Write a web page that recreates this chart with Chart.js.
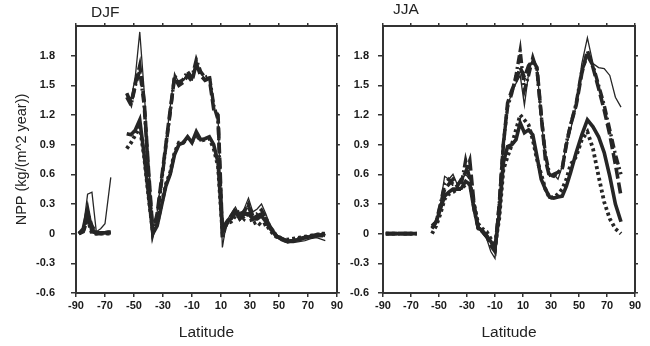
<!DOCTYPE html>
<html>
<head>
<meta charset="utf-8">
<script src="https://cdn.jsdelivr.net/npm/chart.js@4/dist/chart.umd.min.js"></script>
<style>
  html, body { margin: 0; padding: 0; background: #fff; }
  #wrapL { position: absolute; left: 0; top: 0; width: 345px; height: 346px; background: #fff; }
  #wrapR { position: absolute; left: 344px; top: 0; width: 306px; height: 346px; background: #fff; }
</style>
</head>
<body>
<div id="wrapL"><canvas id="cL" width="345" height="346"></canvas></div>
<div id="wrapR"><canvas id="cR" width="306" height="346"></canvas></div>
<script>
// Latitudes (degrees); null entries in series mark gaps (no data)
const lat = [-88,-85,-82,-79,-76,-73,-70,-66,-60,
  -55,-52,-49,-46,-43,-40,-37,-34,-31,-28,-25,-22,-19,-16,-13,-10,-7,-4,-1,2,5,8,11,
  14,17,20,23,26,29,32,35,38,41,44,
  48,52,56,60,64,68,72,76,80,82];

const xTicks = [-90,-70,-50,-30,-10,10,30,50,70,90];
const yTicks = [-0.6,-0.3,0,0.3,0.6,0.9,1.2,1.5,1.8];

// DJF
const djfThin = [0,0.05,0.40,0.42,0.02,0.05,0.10,0.57,null,
  1.42,1.35,1.6,2.04,1.45,0.75,0.05,0.22,0.58,0.92,1.28,1.62,1.52,1.55,1.62,1.56,1.74,1.62,1.57,1.58,1.28,1.18,-0.14,
  0.13,0.2,0.27,0.18,0.25,0.36,0.22,0.25,0.3,0.2,0.08,
  0.0,-0.06,-0.09,-0.09,-0.08,-0.07,-0.05,-0.04,-0.06,-0.07];
const djfDashed = [0,0.02,0.15,0.05,0,0,0,0.01,null,
  1.42,1.32,1.52,1.70,1.35,0.65,0.02,0.2,0.55,0.9,1.25,1.58,1.5,1.53,1.6,1.54,1.72,1.6,1.55,1.57,1.26,1.2,0.02,
  0.1,0.15,0.22,0.15,0.2,0.28,0.15,0.18,0.2,0.15,0.06,
  -0.02,-0.06,-0.08,-0.07,-0.05,-0.04,-0.03,-0.02,-0.02,-0.02];
const djfDashDot = [0,0.03,0.22,0.08,0.01,0.01,0.01,0.02,null,
  1.38,1.3,1.5,1.65,1.3,0.6,0.0,0.18,0.52,0.88,1.22,1.6,1.53,1.56,1.64,1.58,1.76,1.64,1.58,1.6,1.3,1.15,-0.05,
  0.12,0.18,0.25,0.2,0.22,0.3,0.18,0.2,0.24,0.16,0.07,
  -0.01,-0.05,-0.07,-0.07,-0.06,-0.04,-0.02,-0.01,0.0,0.0];
const djfThick = [0,0.05,0.25,0.02,0.01,0.01,0.01,0.02,null,
  1.01,1.0,1.05,1.15,0.8,0.4,0.0,0.08,0.28,0.48,0.6,0.8,0.9,0.92,0.98,0.92,1.03,0.95,0.96,0.98,0.9,0.72,0.05,
  0.12,0.15,0.22,0.15,0.2,0.2,0.15,0.15,0.18,0.12,0.05,
  -0.02,-0.06,-0.08,-0.07,-0.06,-0.04,-0.03,-0.02,-0.01,-0.02];
const djfDotted = [0,0.03,0.15,0,0,0,0,0,null,
  0.86,0.92,1.0,1.08,0.78,0.38,0.02,0.1,0.3,0.5,0.62,0.82,0.92,0.92,0.97,0.93,1.0,0.94,0.95,0.96,0.86,0.68,0.02,
  0.1,0.12,0.18,0.2,0.15,0.22,0.1,0.12,0.08,0.1,0.03,
  -0.03,-0.05,-0.06,-0.05,-0.04,-0.03,-0.02,-0.01,0.0,0.0];

// JJA
const jjaThin = [0,0,0,0,0,0,0,0,null,
  0.06,0.12,0.3,0.58,0.55,0.6,0.5,0.55,0.6,0.55,0.3,0.06,0.0,-0.05,-0.18,-0.25,0.3,0.9,1.3,1.42,1.52,1.6,1.3,
  1.62,1.78,1.68,1.15,0.78,0.58,0.6,0.55,0.68,0.9,1.05,
  1.3,1.72,1.98,1.72,1.68,1.67,1.6,1.38,1.28,null];
const jjaDashed = [0,0,0,0,0,0,0,0,null,
  0.06,0.12,0.28,0.45,0.5,0.55,0.48,0.55,0.62,0.74,0.3,0.06,0.02,-0.02,-0.12,-0.18,0.28,0.9,1.32,1.45,1.55,1.68,1.58,
  1.7,1.75,1.68,1.2,0.75,0.57,0.6,0.62,0.66,0.9,1.1,
  1.3,1.62,1.85,1.68,1.47,1.25,1.0,0.7,0.38,null];
const jjaDashDot = [0,0,0,0,0,0,0,0,null,
  0.05,0.12,0.3,0.5,0.55,0.5,0.5,0.5,0.74,0.55,0.25,0.05,0.02,-0.03,-0.1,-0.15,0.3,0.92,1.28,1.42,1.6,1.85,1.45,
  1.6,1.78,1.65,1.2,0.8,0.6,0.58,0.62,0.65,0.92,1.1,
  1.32,1.65,1.8,1.7,1.5,1.3,1.05,0.8,0.6,null];
const jjaThick = [0,0,0,0,0,0,0,0,null,
  0.08,0.12,0.25,0.38,0.42,0.45,0.45,0.46,0.53,0.5,0.25,0.06,0.03,-0.02,-0.08,-0.15,0.2,0.72,0.88,0.9,0.95,1.12,1.02,
  1.05,1.0,0.78,0.55,0.45,0.37,0.36,0.37,0.38,0.48,0.62,
  0.82,1.0,1.15,1.08,0.98,0.82,0.58,0.3,0.12,null];
const jjaDotted = [0,0,0,0,0,0,0,0,null,
  0.0,0.08,0.2,0.35,0.4,0.42,0.45,0.45,0.5,0.5,0.3,0.1,0.05,0.02,-0.05,-0.12,0.15,0.65,0.78,0.9,1.05,1.2,1.15,
  1.1,0.95,0.75,0.6,0.45,0.36,0.37,0.4,0.45,0.55,0.7,
  0.78,0.95,1.03,0.86,0.58,0.32,0.15,0.05,0.0,null];

const INK = '#262626';
const AXIS = '#333';
const FONT = '"Liberation Sans", Arial, sans-serif';

function pts(arr) { return lat.map((x, i) => ({ x: x, y: arr[i] })); }

function makeDatasets(thin, dashed, dashdot, thick, dotted) {
  const base = { borderColor: INK, pointRadius: 0, tension: 0, spanGaps: false, fill: false };
  return [
    Object.assign({}, base, { label: 'dotted', data: pts(dotted), borderWidth: 3.8, borderDash: [3, 3] }),
    Object.assign({}, base, { label: 'thick', data: pts(thick), borderWidth: 3.6 }),
    Object.assign({}, base, { label: 'dashdot', data: pts(dashdot), borderWidth: 3.4, borderDash: [9, 3, 2, 3] }),
    Object.assign({}, base, { label: 'dashed', data: pts(dashed), borderWidth: 3.6, borderDash: [11, 4] }),
    Object.assign({}, base, { label: 'thin', data: pts(thin), borderWidth: 1.3 })
  ];
}

const panelTitle = {
  id: 'panelTitle',
  afterDraw(chart, args, opts) {
    const ctx = chart.ctx;
    ctx.save();
    ctx.font = '15.5px ' + FONT;
    ctx.fillStyle = '#222';
    ctx.textBaseline = 'middle';
    ctx.textAlign = 'left';
    ctx.fillText(opts.text, opts.x, opts.y);
    ctx.restore();
  }
};

function fmt(v) { return String(Math.round(v * 10) / 10); }

function makeScales(cfg) {
  const tickFont = { family: FONT, size: 11, weight: 'bold' };
  const border = { display: true, color: AXIS, width: 2 };
  return {
    x: {
      type: 'linear', position: 'bottom', min: -90, max: 90,
      afterBuildTicks: s => { s.ticks = xTicks.map(v => ({ value: v })); },
      ticks: { font: tickFont, color: '#1a1a1a', padding: 2, maxRotation: 0, autoSkip: false, callback: v => String(v) },
      grid: { drawOnChartArea: false, tickLength: 4, color: AXIS, lineWidth: 1.5 },
      border: border,
      title: { display: true, text: 'Latitude', font: { family: FONT, size: 15.5 }, color: '#222', padding: { top: 0, bottom: 4 } },
      afterFit: s => { s.height = 53; }
    },
    x2: {
      type: 'linear', position: 'top', min: -90, max: 90,
      afterBuildTicks: s => { s.ticks = xTicks.map(v => ({ value: v })); },
      ticks: { display: false },
      grid: { drawOnChartArea: false, tickLength: 3, color: AXIS, lineWidth: 1.5 },
      border: border,
      afterFit: s => { s.height = 26; }
    },
    y: {
      type: 'linear', position: 'left', min: -0.6, max: 2.1,
      afterBuildTicks: s => { s.ticks = yTicks.map(v => ({ value: v })); },
      ticks: { font: tickFont, color: '#1a1a1a', padding: cfg.tickPad, callback: v => fmt(v) },
      grid: { drawOnChartArea: false, tickLength: 5, color: AXIS, lineWidth: 1.5 },
      border: border,
      title: cfg.yTitle ? { display: true, text: 'NPP (kg/(m^2 year))', font: { family: FONT, size: 14.5 }, color: '#222', padding: { top: 13, bottom: 0 } } : { display: false },
      afterFit: s => { s.width = cfg.yWidth; }
    },
    y2: {
      type: 'linear', position: 'right', min: -0.6, max: 2.1,
      afterBuildTicks: s => { s.ticks = yTicks.map(v => ({ value: v })); },
      ticks: { display: false },
      grid: { drawOnChartArea: false, tickLength: 3, color: AXIS, lineWidth: 1.5 },
      border: border,
      afterFit: s => { s.width = cfg.y2Width; }
    }
  };
}

function makeChart(id, datasets, cfg) {
  return new Chart(document.getElementById(id), {
    type: 'line',
    data: { datasets: datasets },
    plugins: [panelTitle],
    options: {
      responsive: false,
      animation: false,
      devicePixelRatio: 1,
      layout: { padding: 0 },
      plugins: {
        legend: { display: false },
        tooltip: { enabled: false },
        panelTitle: { text: cfg.title, x: cfg.titleX, y: cfg.titleY }
      },
      scales: makeScales(cfg)
    }
  });
}

makeChart('cL', makeDatasets(djfThin, djfDashed, djfDashDot, djfThick, djfDotted),
  { title: 'DJF', titleX: 91, titleY: 13, yWidth: 76, y2Width: 5, tickPad: 16, yTitle: true });
makeChart('cR', makeDatasets(jjaThin, jjaDashed, jjaDashDot, jjaThick, jjaDotted),
  { title: 'JJA', titleX: 49, titleY: 10, yWidth: 39, y2Width: 15, tickPad: 9, yTitle: false });
</script>
</body>
</html>
